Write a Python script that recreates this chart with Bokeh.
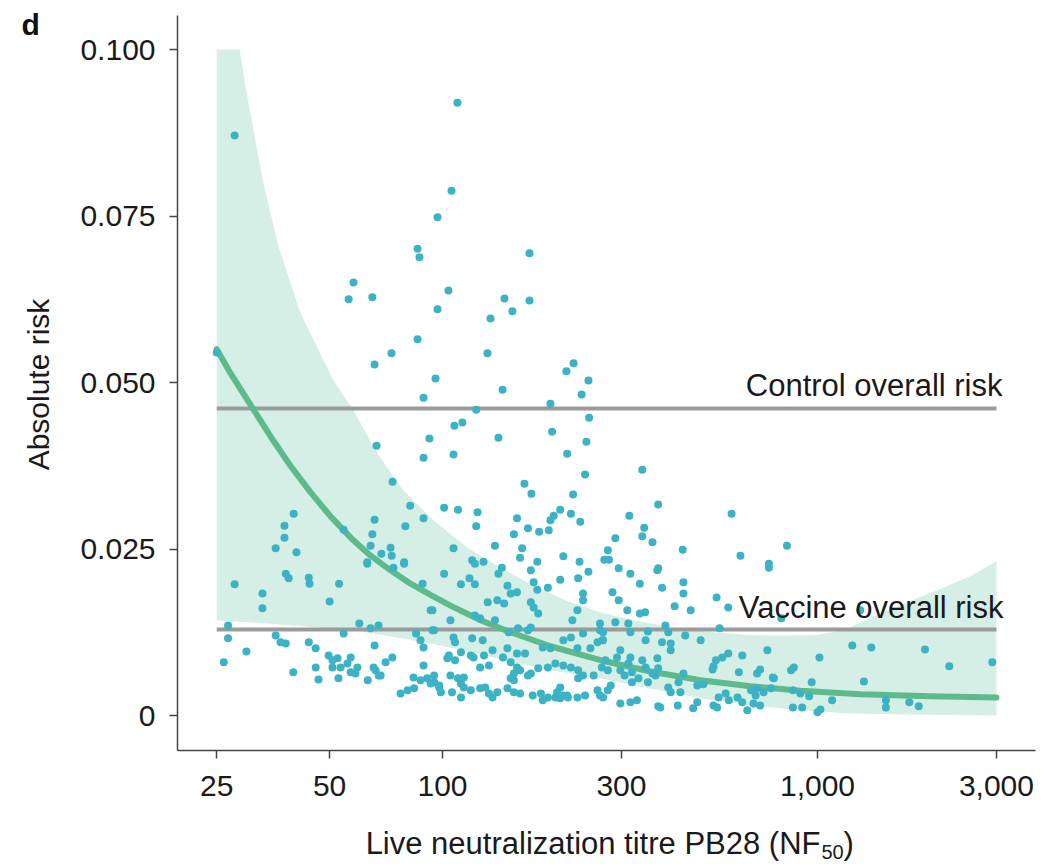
import math
from bokeh.plotting import figure
from bokeh.models import Range1d, FixedTicker, Label
from bokeh.embed import file_html
from bokeh.resources import INLINE

# ---------------- data ----------------
titre = [
    25, 27.9, 109.6, 105.7, 97, 85.8, 86.8, 170.6, 57.9, 56.2, 65, 103.7, 97, 146.3, 153.6, 170.6,
    134.3, 85.8, 73.1, 65.9, 131.8, 95.8, 223.7, 214, 245,
    89, 144.6, 235, 123, 194, 246, 107.6, 113, 92.3, 141, 196, 242, 89, 107, 215, 240, 165.4, 172.6,
    223, 82, 101, 110, 124, 89, 79.6, 123, 158, 206, 198, 194, 220, 233, 155, 169, 181, 192, 138,
    163, 161, 179, 210, 232, 107, 120, 122, 128.6, 79, 276, 270, 278, 289,
    341, 376, 590, 315, 345, 341, 363, 437, 829, 623, 742, 742, 376, 374, 317, 245, 230, 206, 295,
    336, 385, 439, 439, 284, 295, 237, 237, 538, 416, 459, 336, 347, 311, 229, 222, 548, 801, 1300,
    1238, 1391, 1935, 1012, 2246, 2925, 850, 865, 760, 965, 1330, 860, 900, 950, 1094, 1522, 1522,
    1757, 1862, 860, 910, 1000, 1018,
    578, 630, 735, 528, 525, 439, 617, 703, 478, 496, 400, 426, 665, 690, 718, 684, 569, 580, 630,
    650, 528, 478, 466, 424, 381, 298, 317, 330, 259, 240, 215, 206, 202,
    578, 289, 313, 317, 263, 268, 353, 393, 400, 348, 385, 406, 406, 444, 488, 298, 292, 272, 266,
    317, 313, 320, 306, 298, 341, 348, 363, 333, 320, 353, 374, 376, 370, 281, 276, 263, 376, 540,
    545, 612, 675, 703, 752, 536, 557, 690, 765, 406, 431,
    101, 112, 118, 122, 144, 141, 132, 140, 146, 149, 152, 158, 172, 175, 179, 191, 172, 175, 180,
    93, 105, 122, 126, 138, 95, 107, 108, 120, 128, 150, 159, 169, 172, 185, 194, 210, 220, 237,
    263, 268, 259, 267, 248, 229, 104, 112, 119, 129, 136, 145, 149, 158, 166, 103, 108, 121, 126,
    133, 152, 158, 155, 161, 169, 172, 180, 191, 200, 210, 220, 230, 237, 230, 253, 276, 95, 105,
    110, 114, 112, 114, 93, 98, 99, 126, 130, 133, 136, 140, 149, 155, 161, 119, 112, 106, 152,
    155, 174, 183, 185, 191, 200, 210, 216, 206, 268, 229,
    63, 74, 79, 38.2, 38.9, 44, 44.2, 53, 33.1, 33.1, 50, 88.5, 94, 60, 64.3, 67.5, 54.5, 85, 94,
    35.9, 37, 38.2, 44, 45.9, 65.9, 87.4, 89, 49.7, 50.9, 52.5, 50.9, 53.5, 55.8, 56.9, 59.3, 56.9,
    58.6, 40, 45.9, 46.7, 52.8, 63.2, 65.5, 66.3, 67.6, 68.4, 70.5, 73.5, 89, 83.7, 87.4, 91, 95,
    98, 77.3, 80.7, 84,
    66.7, 73.6, 40.1, 37.9, 37.9, 35.9, 40.8, 54.5, 65.9, 65, 64.3, 63, 68.7, 72.7, 73.2, 27.9,
    26.8, 26.8, 30, 26.1,
]
risk = [
    0.0545, 0.0871, 0.0920, 0.0788, 0.0748, 0.0701, 0.0688, 0.0694, 0.0650, 0.0625, 0.0628, 0.0638,
    0.0610, 0.0626, 0.0607, 0.0623, 0.0596, 0.0565, 0.0544, 0.0527, 0.0544, 0.0506, 0.0529, 0.0517,
    0.0503,
    0.0477, 0.0489, 0.0482, 0.0459, 0.0468, 0.0447, 0.0435, 0.0440, 0.0416, 0.0417, 0.0426, 0.0411,
    0.0387, 0.0392, 0.0393, 0.0362, 0.0348, 0.0333, 0.0332, 0.0315, 0.0312, 0.0309, 0.0305, 0.0296,
    0.0284, 0.0284, 0.0296, 0.0309, 0.0300, 0.0293, 0.0303, 0.0291, 0.0272, 0.0281, 0.0276, 0.0278,
    0.0255, 0.0251, 0.0237, 0.0231, 0.0239, 0.0231, 0.0251, 0.0233, 0.0228, 0.0231, 0.0230, 0.0248,
    0.0234, 0.0234, 0.0266,
    0.0369, 0.0317, 0.0303, 0.0300, 0.0282, 0.0269, 0.0260, 0.0249, 0.0255, 0.0240, 0.0228, 0.0222,
    0.0221, 0.0218, 0.0213, 0.0216, 0.0206, 0.0204, 0.0221, 0.0198, 0.0192, 0.0200, 0.0183, 0.0185,
    0.0173, 0.0183, 0.0173, 0.0177, 0.0164, 0.0158, 0.0153, 0.0155, 0.0158, 0.0158, 0.0143, 0.0131,
    0.0146, 0.0158,
    0.0105, 0.0102, 0.0099, 0.0087, 0.0074, 0.0080, 0.0068, 0.0072, 0.0057, 0.0050, 0.0051, 0.0038,
    0.0033, 0.0029, 0.0023, 0.0023, 0.0012, 0.0020, 0.0014, 0.0012, 0.0012, 0.0005, 0.0009,
    0.0093, 0.0090, 0.0098, 0.0074, 0.0069, 0.0063, 0.0065, 0.0069, 0.0045, 0.0047, 0.0042, 0.0050,
    0.0038, 0.0041, 0.0035, 0.0030, 0.0033, 0.0023, 0.0020, 0.0008, 0.0015, 0.0020, 0.0011, 0.0015,
    0.0012, 0.0018, 0.0020, 0.0023, 0.0038, 0.0030, 0.0030, 0.0026, 0.0035,
    0.0162, 0.0140, 0.0138, 0.0125, 0.0128, 0.0113, 0.0126, 0.0135, 0.0125, 0.0113, 0.0110, 0.0108,
    0.0098, 0.0120, 0.0113, 0.0098, 0.0087, 0.0083, 0.0072, 0.0087, 0.0078, 0.0065, 0.0060, 0.0068,
    0.0083, 0.0072, 0.0063, 0.0056, 0.0050, 0.0050, 0.0086, 0.0071, 0.0060, 0.0045, 0.0038, 0.0030,
    0.0014, 0.0012, 0.0027, 0.0027, 0.0018, 0.0015, 0.0041, 0.0083, 0.0087, 0.0063, 0.0056, 0.0035,
    0.0035,
    0.0213, 0.0197, 0.0206, 0.0197, 0.0222, 0.0213, 0.0170, 0.0173, 0.0168, 0.0195, 0.0183, 0.0185,
    0.0218, 0.0200, 0.0189, 0.0192, 0.0170, 0.0162, 0.0153, 0.0158, 0.0143, 0.0150, 0.0146, 0.0143,
    0.0128, 0.0117, 0.0110, 0.0116, 0.0113, 0.0125, 0.0131, 0.0128, 0.0132, 0.0102, 0.0101, 0.0113,
    0.0117, 0.0123, 0.0138, 0.0125, 0.0110, 0.0113, 0.0101, 0.0101, 0.0090, 0.0095, 0.0090, 0.0090,
    0.0098, 0.0087, 0.0101, 0.0093, 0.0093, 0.0086, 0.0083, 0.0087, 0.0072, 0.0075, 0.0080, 0.0072,
    0.0063, 0.0068, 0.0060, 0.0063, 0.0071, 0.0072, 0.0078, 0.0075, 0.0072, 0.0068, 0.0060, 0.0056,
    0.0060, 0.0068, 0.0060, 0.0060, 0.0056, 0.0057, 0.0048, 0.0042, 0.0048, 0.0042, 0.0035, 0.0041,
    0.0042, 0.0033, 0.0027, 0.0035, 0.0041, 0.0035, 0.0033, 0.0038, 0.0027, 0.0035, 0.0056, 0.0053,
    0.0030, 0.0033, 0.0023, 0.0027, 0.0027, 0.0030, 0.0027, 0.0042, 0.0027, 0.0027,
    0.0228, 0.0222, 0.0228, 0.0213, 0.0206, 0.0207, 0.0198, 0.0198, 0.0183, 0.0161, 0.0171, 0.0198,
    0.0158, 0.0138, 0.0131, 0.0135, 0.0123, 0.0123, 0.0128, 0.0120, 0.0110, 0.0108, 0.0110, 0.0101,
    0.0105, 0.0113, 0.0102, 0.0090, 0.0083, 0.0086, 0.0072, 0.0072, 0.0078, 0.0087, 0.0072, 0.0065,
    0.0063, 0.0065, 0.0072, 0.0054, 0.0056, 0.0053, 0.0072, 0.0068, 0.0060, 0.0060, 0.0080, 0.0087,
    0.0075, 0.0057, 0.0053, 0.0056, 0.0050, 0.0045, 0.0033, 0.0038, 0.0041,
    0.0405, 0.0351, 0.0303, 0.0285, 0.0267, 0.0251, 0.0245, 0.0279, 0.0294, 0.0272, 0.0255, 0.0230,
    0.0243, 0.0252, 0.0240, 0.0197, 0.0135, 0.0116, 0.0096, 0.0080,
]

# fitted curve
curve_titre = [25, 27.2, 30.8, 34.8, 39.3, 44.5, 50.3, 56.9, 64.3, 72.7, 82.2, 92.9, 105, 126.3,
               151.8, 194.1, 263.8, 358.6, 487.5, 662.6, 900.7, 1302, 2001, 3000]
curve_risk = [0.0550, 0.0514, 0.0466, 0.0419, 0.0375, 0.0335, 0.0299, 0.0267, 0.0240, 0.0218,
              0.0198, 0.0181, 0.0165, 0.0143, 0.0125, 0.0104, 0.0083, 0.0066, 0.0053, 0.0044,
              0.0037, 0.0032, 0.0029, 0.0027]

# confidence band
upper_titre = [25, 28.8, 29.7, 33.1, 36.5, 41.8, 51.2, 57.9, 67.1, 78.7, 94.6, 116.6, 142.8,
               174.5, 215, 263, 300, 400, 500, 650, 800, 1000, 1170, 1230, 1391, 1700, 2085, 2570,
               3000]
upper_risk = [0.100, 0.100, 0.0950, 0.0806, 0.0705, 0.0604, 0.0503, 0.0458, 0.0393, 0.0338,
              0.0293, 0.0252, 0.0222, 0.0195, 0.0172, 0.0155, 0.0147, 0.0133, 0.0126, 0.0121,
              0.0120, 0.0121, 0.0128, 0.0133, 0.0147, 0.0168, 0.0188, 0.0210, 0.0232]
lower_titre = [25, 34.2, 45, 60.5, 80, 98.8, 130, 160, 194, 263, 360, 500, 665, 900, 1230, 2000,
               3000]
lower_risk = [0.0143, 0.0138, 0.0133, 0.0126, 0.0115, 0.0105, 0.0090, 0.0078, 0.0068, 0.0056,
              0.0040, 0.0025, 0.0015, 0.0008, 0.0003, 0.0001, 0.0]

ref_titre = [25, 3000]
control_risk = 0.0461
vaccine_risk = 0.0129

x_ticks = [25, 50, 100, 300, 1000, 3000]
x_tick_labels = ["25", "50", "100", "300", "1,000", "3,000"]
y_ticks = [0, 0.025, 0.05, 0.075, 0.1]
y_tick_labels = ["0", "0.025", "0.050", "0.075", "0.100"]

# ---------------- figure ----------------
FONT = "Liberation Sans"
TXT = "#1a1a1a"
W, H = 1058, 864

# plot area of the reference (pixels): x 177..1035, y 15..750
# x: 375 px per decade, titre 100 at px 442 ; y: 6660 px per unit, risk 0 at px 715
def tx(px):
    return 10 ** (2 + (px - 442) / 375)

def ry(py):
    return (715 - py) / 6660

p = figure(width=W, height=H, x_axis_type="log",
           x_range=Range1d(tx(0), tx(W)), y_range=Range1d(ry(H), ry(0)),
           output_backend="svg", toolbar_location=None,
           min_border=0, min_border_left=0, min_border_right=0,
           min_border_top=0, min_border_bottom=0)
p.outline_line_color = None
p.xgrid.visible = False
p.ygrid.visible = False
p.background_fill_color = "white"
p.border_fill_color = "white"

band_x = upper_titre + lower_titre[::-1]
band_y = upper_risk + lower_risk[::-1]
p.patch(band_x, band_y, fill_color="#d5eee6", line_color=None)

p.line(ref_titre, [control_risk, control_risk], line_color="#9b9b9b", line_width=4)
p.line(ref_titre, [vaccine_risk, vaccine_risk], line_color="#9b9b9b", line_width=4)

p.line(curve_titre, curve_risk, line_color="#5cba8b", line_width=6, line_cap="round",
       line_join="round")

p.scatter(titre, risk, size=8, fill_color="#3cb3c4", line_color=None)

# axes pinned where the reference draws them
xa, ya = p.xaxis[0], p.yaxis[0]
xa.fixed_location = ry(750)
xa.bounds = (tx(177), tx(1035))
ya.fixed_location = tx(177)
ya.bounds = (ry(750), ry(15))
for ax in (xa, ya):
    ax.axis_line_color = "#444444"
    ax.axis_line_width = 1.5
    ax.major_tick_line_color = "#444444"
    ax.major_tick_line_width = 1.5
    ax.major_tick_in = 0
    ax.major_tick_out = 8
    ax.minor_tick_line_color = None
    ax.major_label_text_font = FONT
    ax.major_label_text_font_size = "30px"
    ax.major_label_text_color = TXT
ya.major_label_standoff = 14
xa.major_label_standoff = 17

xa.ticker = FixedTicker(ticks=x_ticks)
xa.major_label_overrides = dict(zip(x_ticks, x_tick_labels))
ya.ticker = FixedTicker(ticks=y_ticks)
ya.major_label_overrides = dict(zip(y_ticks, y_tick_labels))

# y-axis title
p.add_layout(Label(x=tx(38), y=ry(384), text="Absolute risk", angle=math.pi / 2,
                   text_align="center", text_baseline="middle", text_font=FONT,
                   text_font_size="30px", text_color=TXT))

# x-axis title with subscript
p.add_layout(Label(x=tx(820), y=ry(843), text="Live neutralization titre PB28 (NF",
                   text_align="right", text_baseline="alphabetic", text_font=FONT,
                   text_font_size="31px", text_color=TXT))
p.add_layout(Label(x=tx(821), y=ry(851.5), text="50", text_align="left",
                   text_baseline="alphabetic", text_font=FONT, text_font_size="20px",
                   text_color=TXT))
p.add_layout(Label(x=tx(843), y=ry(843), text=")", text_align="left",
                   text_baseline="alphabetic", text_font=FONT, text_font_size="31px",
                   text_color=TXT))

# reference line labels
p.add_layout(Label(x=tx(1002), y=ry(385), text="Control overall risk", text_align="right",
                   text_baseline="alphabetic", text_font=FONT, text_font_size="31px",
                   text_color=TXT))
p.add_layout(Label(x=tx(1003), y=ry(607), text="Vaccine overall risk", text_align="right",
                   text_baseline="alphabetic", text_font=FONT, text_font_size="31px",
                   text_color=TXT))

# panel letter
p.add_layout(Label(x=tx(21), y=ry(24), text="d", text_align="left", text_baseline="alphabetic",
                   text_font=FONT, text_font_size="30px", text_font_style="bold",
                   text_color="#111111"))

open("out.html", "w").write(file_html(p, INLINE))
